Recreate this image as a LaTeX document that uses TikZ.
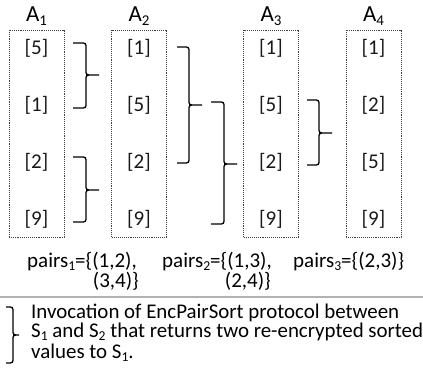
\documentclass[tikz,border=0pt]{standalone}
\usepackage{fontspec}
\usepackage{graphicx}
\setmainfont{Carlito}
\newcommand\sortbrace[6]{%
  \draw[brc] (#1,#4) -- (#2,#4) -- (#2,#5) -- (#3,#5);
  \draw[brc] (#2+3,#5) -- (#2,#5) -- (#2,#6) -- (#1,#6);}
\newcommand\lsub[1]{\raisebox{-0.16em}{\scalebox{0.65}{#1}}}
\begin{document}
\begin{tikzpicture}[x=1pt,y=-1pt,
  box/.style={draw=black!75, dash pattern=on 1.1pt off 1pt, line width=0.8pt, inner sep=0, minimum width=55pt, minimum height=207pt},
  entry/.style={font=\fontsize{21}{24}\selectfont, anchor=base, inner sep=0, text=black!90},
  lbl/.style={font=\fontsize{23}{26}\selectfont, anchor=base, inner sep=0},
  txt/.style={font=\fontsize{21}{23}\selectfont, inner sep=0, text height=12pt, text depth=2pt},
  leg/.style={txt, font=\fontsize{20.9}{23}\selectfont},
  brc/.style={line width=1.3pt, rounded corners=2.5pt}]
\useasboundingbox (0,0) rectangle (423,377);
% boxes
\node[box] (b1) at (36.5,133.5) {};
\node[box] (b2) at (139,133.5) {};
\node[box] (b3) at (271,133.5) {};
\node[box] (b4) at (373.5,133.5) {};
% labels
\node[lbl] (l1) at (36.5,21.7) {A\lsub{1}};
\node[lbl] (l2) at (139,21.7) {A\lsub{2}};
\node[lbl] (l3) at (271,21.7) {A\lsub{3}};
\node[lbl] (l4) at (373.5,21.7) {A\lsub{4}};
% entries
\node[entry] (a11) at (36.5,55) {[5]};
\node[entry] (a12) at (36.5,112) {[1]};
\node[entry] (a13) at (36.5,168) {[2]};
\node[entry] (a14) at (36.5,225) {[9]};
\node[entry] (a21) at (139,55) {[1]};
\node[entry] (a22) at (139,112) {[5]};
\node[entry] (a23) at (139,168) {[2]};
\node[entry] (a24) at (139,225) {[9]};
\node[entry] (a31) at (271,55) {[1]};
\node[entry] (a32) at (271,112) {[5]};
\node[entry] (a33) at (271,168) {[2]};
\node[entry] (a34) at (271,225) {[9]};
\node[entry] (a41) at (373.5,55) {[1]};
\node[entry] (a42) at (373.5,112) {[2]};
\node[entry] (a43) at (373.5,168) {[5]};
\node[entry] (a44) at (373.5,225) {[9]};
% braces
\sortbrace{73}{86}{99}{43}{75}{108}
\sortbrace{73}{86}{99}{157}{190}{222}
\sortbrace{177}{189}{202}{47}{105}{163}
\sortbrace{211}{224}{237}{102}{164}{224}
\sortbrace{307}{319}{332}{100}{133}{165}
% pairs
\node[txt, anchor=base west] (p1) at (27,267) {pairs\lsub{1}=\{(1,2),};
\node[txt, anchor=base east] (p1b) at (139,287) {(3,4)\}};
\node[txt, anchor=base west] (p2) at (162,267) {pairs\lsub{2}=\{(1,3),};
\node[txt, anchor=base east] (p2b) at (271,287) {(2,4)\}};
\node[txt, anchor=base west] (p3) at (293,267) {pairs\lsub{3}=\{(2,3)\}};
% separator
\draw[black!30, line width=1.5pt] (0,297) -- (423,297);
% legend
\sortbrace{6}{13}{19}{307}{335}{363}
\node[leg, anchor=base west] (t1) at (31,318) {Invocation of EncPairSort protocol between};
\node[leg, anchor=base west] (t2) at (31,337.5) {S\lsub{1} and S\lsub{2} that returns two re-encrypted sorted};
\node[leg, anchor=base west] (t3) at (31,358) {values to S\lsub{1}.};
\end{tikzpicture}
\end{document}
